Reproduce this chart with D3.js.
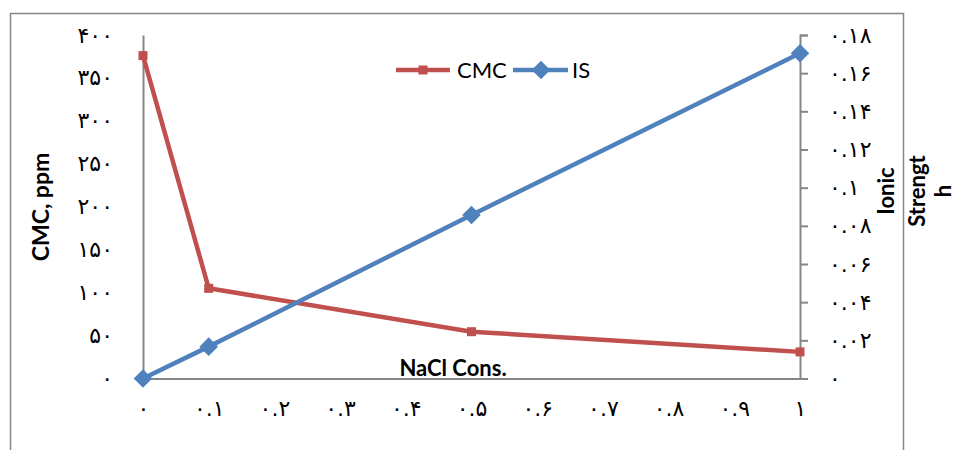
<!DOCTYPE html>
<html>
<head>
<meta charset="utf-8">
<script src="https://cdn.jsdelivr.net/npm/d3@7"></script>
<style>
  body { margin: 0; background: #fff; }
  svg { display: block; }
</style>
</head>
<body>
<div class="chart"></div>
<script>
var svgWidth = 956;
var svgHeight = 450;

// data
var nacl = [0, 0.1, 0.5, 1];
var cmcValues = [376, 105, 54.5, 31];
var isValues = [0, 0.0167, 0.0857, 0.1704];
var xTicks = [0, 0.1, 0.2, 0.3, 0.4, 0.5, 0.6, 0.7, 0.8, 0.9, 1];
var leftTicks = [0, 50, 100, 150, 200, 250, 300, 350, 400];
var rightTicks = [0, 0.02, 0.04, 0.06, 0.08, 0.1, 0.12, 0.14, 0.16, 0.18];

var plot = { left: 143, right: 800, top: 35, bottom: 378.5 };

var red = "#C0504D";
var blue = "#4F81BD";
var gray = "#868686";
var latin = "Lato, 'Open Sans', sans-serif";
var digitFont = "'DejaVu Sans', sans-serif";

// persian digits
var fa = "۰۱۲۳۴۵۶۷۸۹";
function toFa(v) {
  var s = String(+v.toFixed(2));
  return s.replace(/[0-9]/g, d => fa[+d]);
}

var svg = d3.select(".chart")
  .append("svg")
  .attr("width", svgWidth)
  .attr("height", svgHeight);

// outer chart frame (runs off the bottom)
svg.append("rect")
  .attr("x", 10.5)
  .attr("y", 13.5)
  .attr("width", 893)
  .attr("height", 460)
  .attr("fill", "none")
  .attr("stroke", gray)
  .attr("stroke-width", 1.5);

var x = d3.scaleLinear().domain([0, 1]).range([plot.left, plot.right]);
var yLeft = d3.scaleLinear().domain([0, 400]).range([plot.bottom, plot.top]);
var yRight = d3.scaleLinear().domain([0, 0.18]).range([plot.bottom, plot.top]);

// x axis line at zero, labels further down
var xAxis = svg.append("g")
  .attr("transform", `translate(0, ${plot.bottom})`)
  .call(d3.axisBottom(x).tickValues(xTicks).tickSize(0).tickPadding(22).tickFormat(toFa));

// left axis, no tick marks
var leftAxis = svg.append("g")
  .attr("transform", `translate(${plot.left}, 0)`)
  .call(d3.axisLeft(yLeft).tickValues(leftTicks).tickSize(0).tickPadding(30).tickFormat(toFa));

// right axis, ticks point outward
var rightAxis = svg.append("g")
  .attr("transform", `translate(${plot.right}, 0)`)
  .call(d3.axisRight(yRight).tickValues(rightTicks).tickSize(8).tickPadding(21).tickFormat(toFa));

[xAxis, leftAxis, rightAxis].forEach(function(a) {
  a.select(".domain").attr("stroke", gray).attr("stroke-width", 2);
  a.selectAll(".tick line").attr("stroke", gray).attr("stroke-width", 2);
  a.selectAll(".tick text")
    .attr("fill", "#000")
    .style("font-family", digitFont)
    .style("font-size", "22px");
});
rightAxis.selectAll(".tick text").attr("text-anchor", "start");

// series
var cmcData = nacl.map((d, i) => ({ x: d, y: cmcValues[i] }));
var isData = nacl.map((d, i) => ({ x: d, y: isValues[i] }));

svg.append("path")
  .datum(cmcData)
  .attr("fill", "none")
  .attr("stroke", red)
  .attr("stroke-width", 4.5)
  .attr("d", d3.line().x(d => x(d.x)).y(d => yLeft(d.y)));

svg.selectAll(".cmc-pt")
  .data(cmcData)
  .enter()
  .append("rect")
  .attr("class", "cmc-pt")
  .attr("x", d => x(d.x) - 4.5)
  .attr("y", d => yLeft(d.y) - 4.5)
  .attr("width", 9)
  .attr("height", 9)
  .attr("fill", red);

svg.append("path")
  .datum(isData)
  .attr("fill", "none")
  .attr("stroke", blue)
  .attr("stroke-width", 4.5)
  .attr("d", d3.line().x(d => x(d.x)).y(d => yRight(d.y)));

var diamond = d3.symbol().type(d3.symbolDiamond2).size(220);
svg.selectAll(".is-pt")
  .data(isData)
  .enter()
  .append("path")
  .attr("class", "is-pt")
  .attr("transform", d => `translate(${x(d.x)}, ${yRight(d.y)})`)
  .attr("d", diamond)
  .attr("fill", blue);

// legend
var legend = svg.append("g").attr("transform", "translate(396, 70)");
legend.append("line")
  .attr("x1", 0).attr("x2", 54).attr("y1", 0).attr("y2", 0)
  .attr("stroke", red).attr("stroke-width", 4.5);
legend.append("rect")
  .attr("x", 22.5).attr("y", -4.5).attr("width", 9).attr("height", 9)
  .attr("fill", red);
legend.append("text")
  .attr("x", 61).attr("y", 8)
  .style("font-family", latin).style("font-size", "22px")
  .text("CMC");
legend.append("line")
  .attr("x1", 117).attr("x2", 172).attr("y1", 0).attr("y2", 0)
  .attr("stroke", blue).attr("stroke-width", 4.5);
legend.append("path")
  .attr("transform", "translate(145, 0)")
  .attr("d", diamond)
  .attr("fill", blue);
legend.append("text")
  .attr("x", 176).attr("y", 8)
  .style("font-family", latin).style("font-size", "22px")
  .text("IS");

// axis titles
svg.append("text")
  .attr("transform", "translate(49, 207) rotate(-90)")
  .attr("text-anchor", "middle")
  .style("font-family", latin)
  .style("font-weight", "bold")
  .style("font-size", "23px")
  .text("CMC, ppm");

svg.append("text")
  .attr("x", 453)
  .attr("y", 376)
  .attr("text-anchor", "middle")
  .style("font-family", latin)
  .style("font-weight", "bold")
  .style("font-size", "22px")
  .text("NaCl Cons.");

// right title wraps over three lines
var rightTitle = [["Ionic", 894], ["Strengt", 925], ["h", 951]];
rightTitle.forEach(function(t) {
  svg.append("text")
    .attr("transform", `translate(${t[1]}, 191) rotate(-90)`)
    .attr("text-anchor", "middle")
    .style("font-family", latin)
    .style("font-weight", "bold")
    .style("font-size", "22px")
    .text(t[0]);
});
</script>
</body>
</html>
